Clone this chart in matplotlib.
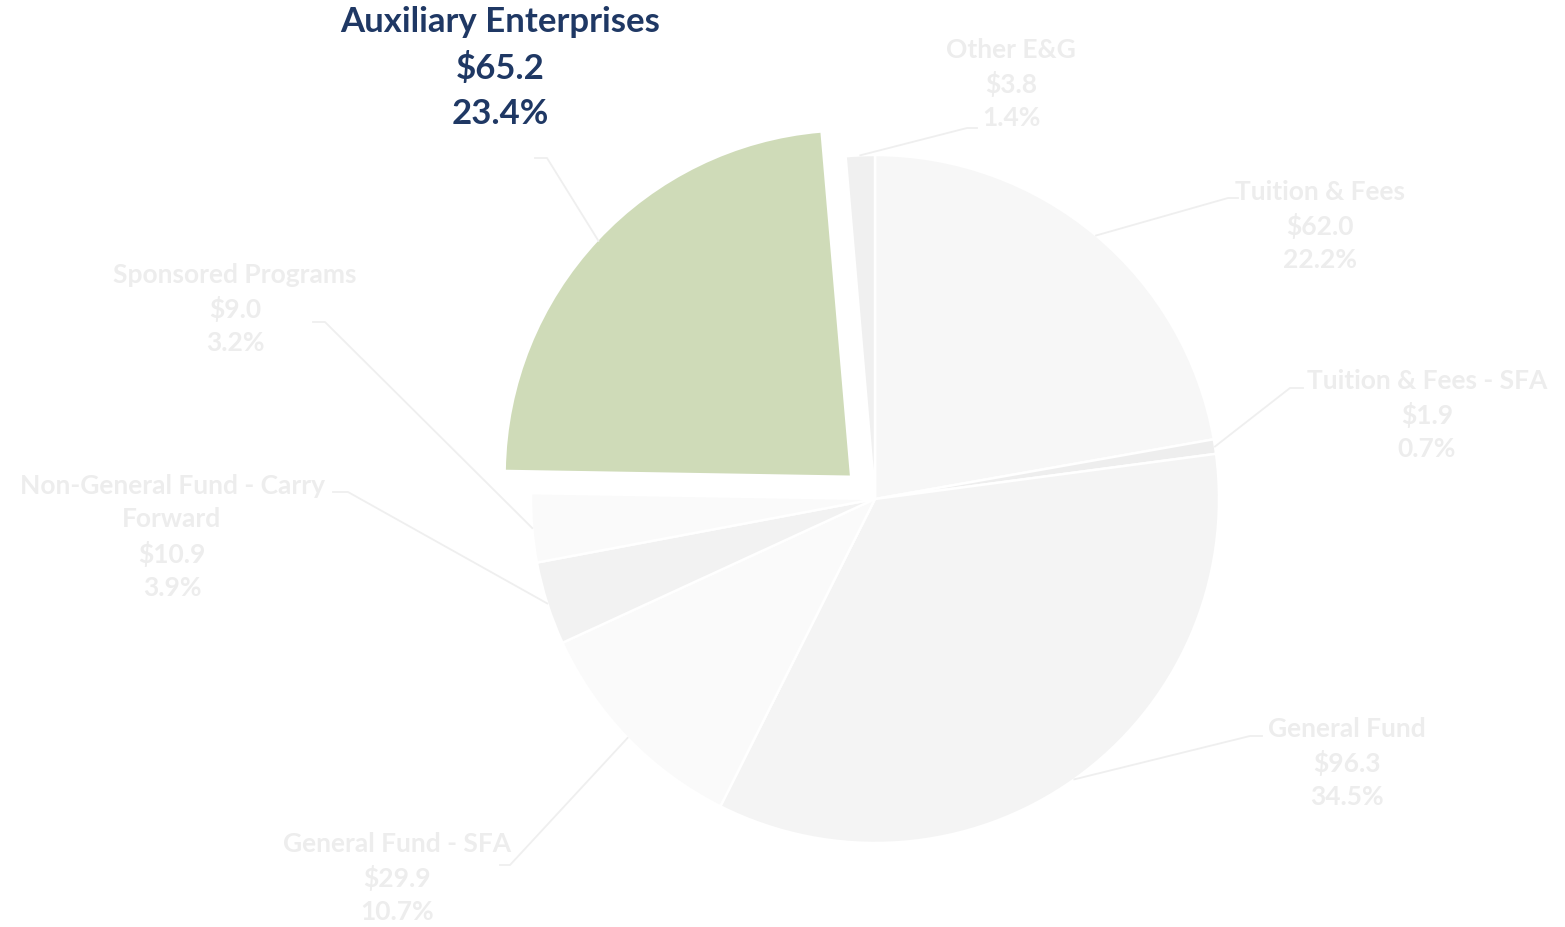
import numpy as np
import matplotlib
matplotlib.use("Agg")
import matplotlib.pyplot as plt

categories = ["Tuition & Fees", "Tuition & Fees - SFA", "General Fund", "General Fund - SFA",
              "Non-General Fund - Carry\nForward", "Sponsored Programs", "Auxiliary Enterprises", "Other E&G"]
values = [62.0, 1.9, 96.3, 29.9, 10.9, 9.0, 65.2, 3.8]
percents = [22.2, 0.7, 34.5, 10.7, 3.9, 3.2, 23.4, 1.4]
highlight = "Auxiliary Enterprises"

colors = ["#F7F7F7", "#EEEEEE", "#F4F4F4", "#FAFAFA", "#F2F2F2", "#FAFAFA", "#CFDBB8", "#F0F0F0"]

W, H = 1565, 927
fig = plt.figure(figsize=(W / 100, H / 100), dpi=100)
ax = fig.add_axes([0, 0, 1, 1])
ax.set_xlim(0, W)
ax.set_ylim(0, H)
ax.set_aspect("equal")
ax.axis("off")

cx, cy, R = 875, H - 499, 344
explode = [0.1 * R if c == highlight else 0 for c in categories]
wedges, _ = ax.pie(values, colors=colors, startangle=90, counterclock=False,
                   center=(cx, cy), radius=R, explode=explode, frame=True,
                   wedgeprops=dict(edgecolor="white", linewidth=1.8))
ax.set_xlim(0, W)
ax.set_ylim(0, H)
ax.axis("off")
for w, c in zip(wedges, categories):
    if c == highlight:
        w.set_edgecolor("none")

# layout: label centers (top-left pixel coords) and elbow points
label_pos = [(1320, 226), (1427, 415), (1347, 763), (397, 878), (172, 537), (235, 309), (500, 68), (1011, 84)]
elbow_pos = [((1228, 198), (1238, 198)), ((1290, 388), (1303, 388)), ((1250, 736), (1262, 736)),
             ((510, 865), (500, 865)), ((348, 492), (333, 492)), ((325, 322), (313, 322)),
             ((547, 158), (535, 158)), ((967, 128), (977, 128))]

font = "Lato"
for w, c, v, p, (lx, ly), (e1, e2) in zip(wedges, categories, values, percents, label_pos, elbow_pos):
    th = np.deg2rad((w.theta1 + w.theta2) / 2)
    wx, wy = w.center
    px = wx + R * np.cos(th)
    py = wy + R * np.sin(th)
    ax.plot([px, e1[0], e2[0]], [py, H - e1[1], H - e2[1]], color="#EFEFEF", lw=1.3, zorder=1)
    txt = f"{c}\n${v:.1f}\n{p:.1f}%"
    if c == highlight:
        ax.text(lx, H - ly, txt, ha="center", va="center", fontsize=25, fontweight="bold",
                color="#1F3864", family=font, linespacing=1.5)
    else:
        ax.text(lx, H - ly, txt, ha="center", va="center", fontsize=19, fontweight="bold",
                color="#EDEDED", family=font, linespacing=1.45)

fig.savefig("out.png", dpi=100)
